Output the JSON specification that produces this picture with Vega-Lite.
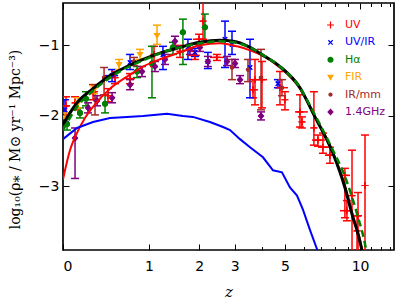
{
  "$schema": "https://vega.github.io/schema/vega-lite/v6.json",
  "width": 331,
  "height": 247,
  "autosize": "none",
  "padding": {"left": 63, "top": 3, "right": 5, "bottom": 49},
  "background": "white",
  "config": {
    "view": {"stroke": "black", "strokeWidth": 1.7},
    "axis": {"domain": false, "grid": false, "tickColor": "black", "tickWidth": 1, "labelColor": "black", "titleColor": "black"}
  },
  "datasets": {
    "pts": [
      {"s": "UV", "z": 0.025, "v": -1.857, "lo": -2.0, "hi": -1.729, "zlo": 0, "zhi": 0.058},
      {"s": "UV", "z": 0.102, "v": -1.814, "lo": -1.914, "hi": -1.729},
      {"s": "UV", "z": 0.274, "v": -1.657, "lo": -1.771, "hi": -1.557, "zlo": 0.224, "zhi": 0.327},
      {"s": "UV", "z": 0.438, "v": -1.714, "lo": -1.8, "hi": -1.614},
      {"s": "UV", "z": 0.522, "v": -1.457, "lo": -1.543, "hi": -1.371},
      {"s": "UV", "z": 0.718, "v": -1.471, "lo": -1.543, "hi": -1.4, "zlo": 0.65, "zhi": 0.788},
      {"s": "UV", "z": 1.085, "v": -1.129, "lo": -1.3, "hi": -1.014},
      {"s": "UV", "z": 1.571, "v": -1.086, "lo": -1.171, "hi": -1.0},
      {"s": "UV", "z": 1.901, "v": -1.143, "lo": -1.2, "hi": -1.086, "zlo": 1.742, "zhi": 2.02},
      {"s": "UV", "z": 2.0, "v": -0.914, "lo": -0.986, "hi": -0.843, "zlo": 1.854, "zhi": 2.144},
      {"s": "UV", "z": 2.097, "v": -0.657, "lo": -0.914, "hi": -0.3},
      {"s": "UV", "z": 2.464, "v": -1.171, "lo": -1.214, "hi": -1.129, "zlo": 2.274, "zhi": 2.668},
      {"s": "UV", "z": 3.635, "v": -1.629, "lo": -1.743, "hi": -1.486, "zlo": 3.525, "zhi": 3.826},
      {"s": "UV", "z": 3.711, "v": -1.486, "lo": -1.843, "hi": -1.2},
      {"s": "UV", "z": 3.984, "v": -1.486, "lo": -1.886, "hi": -1.229, "zlo": 3.787, "zhi": 4.193},
      {"s": "UV", "z": 4.763, "v": -1.6, "lo": -1.843, "hi": -1.371, "zlo": 4.535, "zhi": 5.147},
      {"s": "UV", "z": 5.0, "v": -1.771, "lo": -1.914, "hi": -1.657},
      {"s": "UV", "z": 5.773, "v": -1.943, "lo": -2.157, "hi": -1.7, "zlo": 5.505, "zhi": 6.224},
      {"s": "UV", "z": 5.883, "v": -2.086, "lo": -2.171, "hi": -2.014},
      {"s": "UV", "z": 6.58, "v": -2.171, "lo": -2.414, "hi": -1.657},
      {"s": "UV", "z": 6.83, "v": -2.343, "lo": -2.429, "hi": -2.271, "zlo": 6.466, "zhi": 7.285},
      {"s": "UV", "z": 7.153, "v": -2.443, "lo": -2.529, "hi": -2.243, "zlo": 6.83, "zhi": 7.488},
      {"s": "UV", "z": 7.626, "v": -2.557, "lo": -2.671, "hi": -2.443, "zlo": 7.285, "zhi": 7.981},
      {"s": "UV", "z": 8.735, "v": -2.843, "lo": -3.443, "hi": -2.743, "zlo": 8.351, "zhi": 9.146},
      {"s": "UV", "z": 8.894, "v": -3.343, "lo": -3.486, "hi": -3.2, "zlo": 8.351, "zhi": 9.311},
      {"s": "UV", "z": 9.311, "v": -3.129, "lo": -4.2, "hi": -2.486},
      {"s": "UV", "z": 9.735, "v": -3.629, "lo": -4.2, "hi": -3.414},
      {"s": "UV", "z": 9.822, "v": -3.414, "lo": -4.2, "hi": -3.086, "zlo": 9.311, "zhi": 10.18},
      {"s": "UV", "z": 10.45, "v": -2.986, "lo": -4.2, "hi": -2.271},
      {"s": "UV/IR", "z": 0.016, "v": -1.914, "lo": -2.086, "hi": -1.771},
      {"s": "UV/IR", "z": 0.486, "v": -1.429, "lo": -1.514, "hi": -1.343, "zlo": 0.404, "zhi": 0.559},
      {"s": "UV/IR", "z": 0.718, "v": -1.243, "lo": -1.343, "hi": -1.129},
      {"s": "UV/IR", "z": 1.241, "v": -1.129, "lo": -1.343, "hi": -1.014},
      {"s": "UV/IR", "z": 1.742, "v": -1.029, "lo": -1.2, "hi": -0.914},
      {"s": "UV/IR", "z": 1.901, "v": -1.1, "lo": -1.157, "hi": -1.043},
      {"s": "UV/IR", "z": 2.221, "v": -1.229, "lo": -1.329, "hi": -1.1},
      {"s": "UV/IR", "z": 2.698, "v": -0.914, "lo": -1.314, "hi": -0.657},
      {"s": "UV/IR", "z": 2.913, "v": -0.986, "lo": -1.129, "hi": -0.8},
      {"s": "UV/IR", "z": 3.525, "v": -1.314, "lo": -1.743, "hi": -0.914},
      {"s": "UV/IR", "z": 4.671, "v": -1.543, "lo": -1.6, "hi": -1.486},
      {"s": "Hα", "z": 0.033, "v": -2.114, "lo": -2.2, "hi": -2.029},
      {"s": "Hα", "z": 0.147, "v": -1.957, "lo": -2.029, "hi": -1.886},
      {"s": "Hα", "z": 0.204, "v": -1.757, "lo": -1.857, "hi": -1.657},
      {"s": "Hα", "z": 0.404, "v": -1.829, "lo": -1.957, "hi": -1.7},
      {"s": "Hα", "z": 0.818, "v": -1.371, "lo": -1.457, "hi": -1.3},
      {"s": "Hα", "z": 1.051, "v": -1.257, "lo": -1.743, "hi": -1.014},
      {"s": "Hα", "z": 1.43, "v": -1.029, "lo": -1.129, "hi": -0.957},
      {"s": "Hα", "z": 1.633, "v": -0.814, "lo": -1.271, "hi": -0.629},
      {"s": "Hα", "z": 2.144, "v": -0.743, "lo": -0.943, "hi": -0.557},
      {"s": "FIR", "z": 0.016, "v": -2.029, "lo": -2.1, "hi": -1.957},
      {"s": "FIR", "z": 0.129, "v": -1.814, "lo": -1.886, "hi": -1.743},
      {"s": "FIR", "z": 0.284, "v": -1.629, "lo": -1.686, "hi": -1.571},
      {"s": "FIR", "z": 0.572, "v": -1.271, "lo": -1.343, "hi": -1.2},
      {"s": "FIR", "z": 0.862, "v": -1.129, "lo": -1.2, "hi": -1.057},
      {"s": "FIR", "z": 1.136, "v": -0.857, "lo": -0.986, "hi": -0.714},
      {"s": "IR/mm", "z": 0.295, "v": -1.771, "lo": -1.986, "hi": -1.557},
      {"s": "IR/mm", "z": 0.393, "v": -1.457, "lo": -1.7, "hi": -1.314},
      {"s": "IR/mm", "z": 0.774, "v": -1.229, "lo": -1.286, "hi": -1.171},
      {"s": "IR/mm", "z": 2.913, "v": -1.314, "lo": -1.486, "hi": -1.2},
      {"s": "IR/mm", "z": 3.452, "v": -1.343, "lo": -1.514, "hi": -1.2},
      {"s": "IR/mm", "z": 3.945, "v": -1.457, "lo": -1.914, "hi": -1.057},
      {"s": "IR/mm", "z": 4.857, "v": -1.6, "lo": -1.714, "hi": -1.486},
      {"s": "1.4GHz", "z": 0.102, "v": -2.314, "lo": -2.886, "hi": -2.171},
      {"s": "1.4GHz", "z": 0.224, "v": -1.886, "lo": -1.957, "hi": -1.814},
      {"s": "1.4GHz", "z": 0.316, "v": -1.786, "lo": -1.857, "hi": -1.714},
      {"s": "1.4GHz", "z": 0.486, "v": -1.743, "lo": -1.814, "hi": -1.671},
      {"s": "1.4GHz", "z": 0.718, "v": -1.557, "lo": -1.629, "hi": -1.486},
      {"s": "1.4GHz", "z": 0.892, "v": -1.371, "lo": -1.443, "hi": -1.3},
      {"s": "1.4GHz", "z": 1.101, "v": -1.3, "lo": -1.371, "hi": -1.229},
      {"s": "1.4GHz", "z": 1.278, "v": -1.2, "lo": -1.271, "hi": -1.129},
      {"s": "1.4GHz", "z": 1.469, "v": -0.943, "lo": -1.014, "hi": -0.871},
      {"s": "1.4GHz", "z": 1.786, "v": -1.057, "lo": -1.129, "hi": -0.986},
      {"s": "1.4GHz", "z": 2.02, "v": -1.029, "lo": -1.086, "hi": -0.957},
      {"s": "1.4GHz", "z": 2.221, "v": -1.229, "lo": -1.3, "hi": -1.157},
      {"s": "1.4GHz", "z": 2.759, "v": -1.229, "lo": -1.286, "hi": -1.157},
      {"s": "1.4GHz", "z": 3.009, "v": -1.257, "lo": -1.314, "hi": -1.2},
      {"s": "1.4GHz", "z": 3.174, "v": -1.486, "lo": -1.543, "hi": -1.429},
      {"s": "1.4GHz", "z": 3.945, "v": -2.0, "lo": -2.057, "hi": -1.943}
    ],
    "black": [
      {"z": 0, "v": -2.12}, {"z": 0.12, "v": -1.814}, {"z": 0.274, "v": -1.614}, {"z": 0.462, "v": -1.429},
      {"z": 0.677, "v": -1.3}, {"z": 0.908, "v": -1.2}, {"z": 1.224, "v": -1.1}, {"z": 1.571, "v": -1.029},
      {"z": 2.02, "v": -0.957}, {"z": 2.548, "v": -0.929}, {"z": 2.945, "v": -0.943}, {"z": 3.525, "v": -1.029},
      {"z": 3.905, "v": -1.114}, {"z": 4.763, "v": -1.3}, {"z": 5.773, "v": -1.6}, {"z": 6.643, "v": -2.014},
      {"z": 7.837, "v": -2.529}, {"z": 8.735, "v": -3.014}, {"z": 9.394, "v": -3.443}, {"z": 9.822, "v": -3.671},
      {"z": 10.18, "v": -3.914}, {"z": 10.4, "v": -4.1}
    ],
    "green": [
      {"z": 0, "v": -2.2}, {"z": 0.12, "v": -1.871}, {"z": 0.274, "v": -1.643}, {"z": 0.462, "v": -1.457},
      {"z": 0.677, "v": -1.314}, {"z": 0.908, "v": -1.214}, {"z": 1.224, "v": -1.1}, {"z": 1.571, "v": -1.029},
      {"z": 2.02, "v": -0.971}, {"z": 2.548, "v": -0.943}, {"z": 2.945, "v": -0.957}, {"z": 3.525, "v": -1.029},
      {"z": 3.905, "v": -1.114}, {"z": 4.763, "v": -1.3}, {"z": 5.773, "v": -1.6}, {"z": 6.643, "v": -1.986},
      {"z": 7.837, "v": -2.486}, {"z": 8.735, "v": -2.857}, {"z": 9.735, "v": -3.386}, {"z": 10.45, "v": -3.814},
      {"z": 10.8, "v": -4.1}
    ],
    "red": [
      {"z": 0, "v": -2.9}, {"z": 0.058, "v": -2.486}, {"z": 0.102, "v": -2.3}, {"z": 0.194, "v": -2.029},
      {"z": 0.274, "v": -1.871}, {"z": 0.462, "v": -1.614}, {"z": 0.677, "v": -1.443}, {"z": 0.908, "v": -1.3},
      {"z": 1.224, "v": -1.186}, {"z": 1.571, "v": -1.1}, {"z": 2.02, "v": -1.0}, {"z": 2.548, "v": -0.971},
      {"z": 3.074, "v": -1.014}, {"z": 3.525, "v": -1.071}, {"z": 3.905, "v": -1.129}, {"z": 4.763, "v": -1.314},
      {"z": 5.773, "v": -1.614}, {"z": 6.643, "v": -2.014}, {"z": 7.837, "v": -2.514}, {"z": 8.735, "v": -2.986},
      {"z": 9.394, "v": -3.414}, {"z": 10.18, "v": -3.886}, {"z": 10.4, "v": -4.1}
    ],
    "blue": [
      {"z": 0, "v": -2.329}, {"z": 0.12, "v": -2.171}, {"z": 0.274, "v": -2.086}, {"z": 0.462, "v": -2.029},
      {"z": 0.677, "v": -2.014}, {"z": 0.908, "v": -2.0}, {"z": 1.315, "v": -1.971}, {"z": 1.633, "v": -2.0},
      {"z": 1.854, "v": -2.014}, {"z": 2.274, "v": -2.086}, {"z": 2.639, "v": -2.157}, {"z": 2.851, "v": -2.2},
      {"z": 3.174, "v": -2.329}, {"z": 3.525, "v": -2.443}, {"z": 4.025, "v": -2.586}, {"z": 4.447, "v": -2.771},
      {"z": 4.857, "v": -2.8}, {"z": 5.247, "v": -3.014}, {"z": 5.613, "v": -3.129}, {"z": 5.938, "v": -3.329},
      {"z": 6.341, "v": -3.614}, {"z": 6.768, "v": -3.886}, {"z": 6.9, "v": -4.0}
    ]
  },
  "layer": [
    {
      "data": {"name": "pts"},
      "mark": {"type": "point", "filled": true, "size": 52, "strokeWidth": 0, "opacity": 1, "clip": true},
      "encoding": {
        "x": {"field": "z", "type": "quantitative", "scale": {"type": "symlog", "constant": 1, "domain": [0, 13.47], "nice": false, "zero": false},
              "axis": {"orient": "bottom", "values": [0, 1, 2, 3, 5, 10], "format": "d", "tickSize": -6, "labelFont": "DejaVu Sans", "labelFontSize": 14, "labelPadding": 15,
                       "title": "z", "titleFont": "DejaVu Serif", "titleFontStyle": "italic", "titleFontWeight": "normal", "titleFontSize": 15, "titleY": 46, "titleBaseline": "alphabetic"}},
        "y": {"field": "v", "type": "quantitative", "scale": {"domain": [-3.9, -0.4], "nice": false, "zero": false},
              "axis": {"orient": "left", "values": [-3, -2, -1], "format": "d", "tickSize": -6, "labelFont": "DejaVu Sans", "labelFontSize": 14, "labelPadding": 10,
                       "title": "log₁₀(ρ⁎ / M⊙ yr⁻¹ Mpc⁻³)", "titleFont": "DejaVu Serif", "titleFontWeight": "normal", "titleFontSize": 14,
                       "titleX": -48, "titleY": 136, "titleAngle": -90, "titleAlign": "center", "titleBaseline": "middle"}},
        "color": {"field": "s", "type": "nominal",
                  "scale": {"domain": ["UV", "UV/IR", "Hα", "FIR", "IR/mm", "1.4GHz"], "range": ["#ff0000", "#0000ff", "#008000", "#ffa500", "#a52a2a", "#800080"]},
                  "legend": {"orient": "none", "legendX": 262, "legendY": 16.5, "title": null, "labelFont": "DejaVu Sans", "labelFontSize": 11, "labelOffset": 9, "rowPadding": 5.4, "symbolSize": 52, "symbolStrokeWidth": 0,
                             "labelColor": {"expr": "scale('color', datum.value)"}}},
        "shape": {"field": "s", "type": "nominal",
                  "scale": {"domain": ["UV", "UV/IR", "Hα", "FIR", "IR/mm", "1.4GHz"],
                            "range": ["M-0.95,-0.17L-0.17,-0.17L-0.17,-0.95L0.17,-0.95L0.17,-0.17L0.95,-0.17L0.95,0.17L0.17,0.17L0.17,0.95L-0.17,0.95L-0.17,0.17L-0.95,0.17Z",
                                      "M-0.481,-0.721L0,-0.24L0.481,-0.721L0.721,-0.481L0.24,0L0.721,0.481L0.481,0.721L0,0.24L-0.481,0.721L-0.721,0.481L-0.24,0L-0.721,-0.481Z",
                                      "M-0.85,0A0.85,0.85,0,1,1,0.85,0A0.85,0.85,0,1,1,-0.85,0Z",
                                      "M-0.95,-0.65L0.95,-0.65L0,0.95Z",
                                      "M-0.6,0A0.6,0.6,0,1,1,0.6,0A0.6,0.6,0,1,1,-0.6,0Z",
                                      "M0,-1L0.9,0L0,1L-0.9,0Z"]},
                  "legend": {"orient": "none", "legendX": 262, "legendY": 16.5, "title": null, "labelFont": "DejaVu Sans", "labelFontSize": 11, "labelOffset": 9, "rowPadding": 5.4, "symbolSize": 52, "symbolStrokeWidth": 0,
                             "labelColor": {"expr": "scale('color', datum.value)"}}}
      }
    },
    {
      "data": {"name": "pts"},
      "mark": {"type": "rule", "strokeWidth": 1.5, "clip": true},
      "encoding": {
        "x": {"field": "z", "type": "quantitative", "scale": {"type": "symlog", "constant": 1, "domain": [0, 13.47], "nice": false, "zero": false},
              "axis": {"orient": "top", "values": [0, 1, 2, 3, 5, 10], "labels": false, "tickSize": -6, "title": null}},
        "y": {"field": "lo", "type": "quantitative", "scale": {"domain": [-3.9, -0.4], "nice": false, "zero": false},
              "axis": {"orient": "right", "values": [-3, -2, -1], "labels": false, "tickSize": -6, "title": null}},
        "y2": {"field": "hi"},
        "color": {"field": "s", "type": "nominal",
                  "scale": {"domain": ["UV", "UV/IR", "Hα", "FIR", "IR/mm", "1.4GHz"], "range": ["#ff0000", "#0000ff", "#008000", "#ffa500", "#a52a2a", "#800080"]}}
      }
    },
    {
      "data": {"name": "pts"},
      "transform": [{"filter": {"field": "zlo", "valid": true}}],
      "mark": {"type": "rule", "strokeWidth": 1.5, "clip": true},
      "encoding": {
        "x": {"field": "zlo", "type": "quantitative", "scale": {"type": "symlog", "constant": 1, "domain": [0, 13.47], "nice": false, "zero": false},
              "axis": {"orient": "bottom", "values": [4, 6, 7, 8, 9, 11, 12, 13], "labels": false, "tickSize": -3.5, "title": null}},
        "x2": {"field": "zhi"},
        "y": {"field": "v", "type": "quantitative", "scale": {"domain": [-3.9, -0.4], "nice": false, "zero": false}, "axis": null},
        "color": {"field": "s", "type": "nominal",
                  "scale": {"domain": ["UV", "UV/IR", "Hα", "FIR", "IR/mm", "1.4GHz"], "range": ["#ff0000", "#0000ff", "#008000", "#ffa500", "#a52a2a", "#800080"]}}
      }
    },
    {
      "data": {"name": "pts"},
      "mark": {"type": "tick", "orient": "horizontal", "size": 8, "thickness": 1.5, "opacity": 1, "clip": true},
      "encoding": {
        "x": {"field": "z", "type": "quantitative", "scale": {"type": "symlog", "constant": 1, "domain": [0, 13.47], "nice": false, "zero": false},
              "axis": {"orient": "top", "values": [4, 6, 7, 8, 9, 11, 12, 13], "labels": false, "tickSize": -3.5, "title": null}},
        "y": {"field": "hi", "type": "quantitative", "scale": {"domain": [-3.9, -0.4], "nice": false, "zero": false}, "axis": null},
        "color": {"field": "s", "type": "nominal",
                  "scale": {"domain": ["UV", "UV/IR", "Hα", "FIR", "IR/mm", "1.4GHz"], "range": ["#ff0000", "#0000ff", "#008000", "#ffa500", "#a52a2a", "#800080"]}}
      }
    },
    {
      "data": {"name": "pts"},
      "mark": {"type": "tick", "orient": "horizontal", "size": 8, "thickness": 1.5, "opacity": 1, "clip": true},
      "encoding": {
        "x": {"field": "z", "type": "quantitative", "scale": {"type": "symlog", "constant": 1, "domain": [0, 13.47], "nice": false, "zero": false}, "axis": null},
        "y": {"field": "lo", "type": "quantitative", "scale": {"domain": [-3.9, -0.4], "nice": false, "zero": false}, "axis": null},
        "color": {"field": "s", "type": "nominal",
                  "scale": {"domain": ["UV", "UV/IR", "Hα", "FIR", "IR/mm", "1.4GHz"], "range": ["#ff0000", "#0000ff", "#008000", "#ffa500", "#a52a2a", "#800080"]}}
      }
    },
    {
      "data": {"name": "pts"},
      "mark": {"type": "point", "filled": true, "size": 52, "strokeWidth": 0, "opacity": 1, "clip": true},
      "encoding": {
        "x": {"field": "z", "type": "quantitative", "scale": {"type": "symlog", "constant": 1, "domain": [0, 13.47], "nice": false, "zero": false}, "axis": null},
        "y": {"field": "v", "type": "quantitative", "scale": {"domain": [-3.9, -0.4], "nice": false, "zero": false}, "axis": null},
        "color": {"field": "s", "type": "nominal",
                  "scale": {"domain": ["UV", "UV/IR", "Hα", "FIR", "IR/mm", "1.4GHz"], "range": ["#ff0000", "#0000ff", "#008000", "#ffa500", "#a52a2a", "#800080"]}},
        "shape": {"field": "s", "type": "nominal",
                  "scale": {"domain": ["UV", "UV/IR", "Hα", "FIR", "IR/mm", "1.4GHz"],
                            "range": ["M-0.95,-0.17L-0.17,-0.17L-0.17,-0.95L0.17,-0.95L0.17,-0.17L0.95,-0.17L0.95,0.17L0.17,0.17L0.17,0.95L-0.17,0.95L-0.17,0.17L-0.95,0.17Z",
                                      "M-0.481,-0.721L0,-0.24L0.481,-0.721L0.721,-0.481L0.24,0L0.721,0.481L0.481,0.721L0,0.24L-0.481,0.721L-0.721,0.481L-0.24,0L-0.721,-0.481Z",
                                      "M-0.85,0A0.85,0.85,0,1,1,0.85,0A0.85,0.85,0,1,1,-0.85,0Z",
                                      "M-0.95,-0.65L0.95,-0.65L0,0.95Z",
                                      "M-0.6,0A0.6,0.6,0,1,1,0.6,0A0.6,0.6,0,1,1,-0.6,0Z",
                                      "M0,-1L0.9,0L0,1L-0.9,0Z"]}}
      }
    },
    {
      "data": {"name": "red"},
      "mark": {"type": "line", "color": "#ff0000", "strokeWidth": 2, "interpolate": "monotone", "clip": true},
      "encoding": {
        "x": {"field": "z", "type": "quantitative", "scale": {"type": "symlog", "constant": 1, "domain": [0, 13.47], "nice": false, "zero": false}, "axis": null},
        "y": {"field": "v", "type": "quantitative", "scale": {"domain": [-3.9, -0.4], "nice": false, "zero": false}, "axis": null}
      }
    },
    {
      "data": {"name": "blue"},
      "mark": {"type": "line", "color": "#0000ff", "strokeWidth": 2, "clip": true},
      "encoding": {
        "x": {"field": "z", "type": "quantitative", "scale": {"type": "symlog", "constant": 1, "domain": [0, 13.47], "nice": false, "zero": false}, "axis": null},
        "y": {"field": "v", "type": "quantitative", "scale": {"domain": [-3.9, -0.4], "nice": false, "zero": false}, "axis": null}
      }
    },
    {
      "data": {"name": "black"},
      "mark": {"type": "line", "color": "black", "strokeWidth": 3, "interpolate": "monotone", "clip": true},
      "encoding": {
        "x": {"field": "z", "type": "quantitative", "scale": {"type": "symlog", "constant": 1, "domain": [0, 13.47], "nice": false, "zero": false}, "axis": null},
        "y": {"field": "v", "type": "quantitative", "scale": {"domain": [-3.9, -0.4], "nice": false, "zero": false}, "axis": null}
      }
    },
    {
      "data": {"name": "green"},
      "mark": {"type": "line", "color": "#008000", "strokeWidth": 2.5, "strokeDash": [7, 4], "interpolate": "monotone", "clip": true},
      "encoding": {
        "x": {"field": "z", "type": "quantitative", "scale": {"type": "symlog", "constant": 1, "domain": [0, 13.47], "nice": false, "zero": false}, "axis": null},
        "y": {"field": "v", "type": "quantitative", "scale": {"domain": [-3.9, -0.4], "nice": false, "zero": false}, "axis": null}
      }
    }
  ],
  "resolve": {"axis": {"x": "independent", "y": "independent"}}
}
